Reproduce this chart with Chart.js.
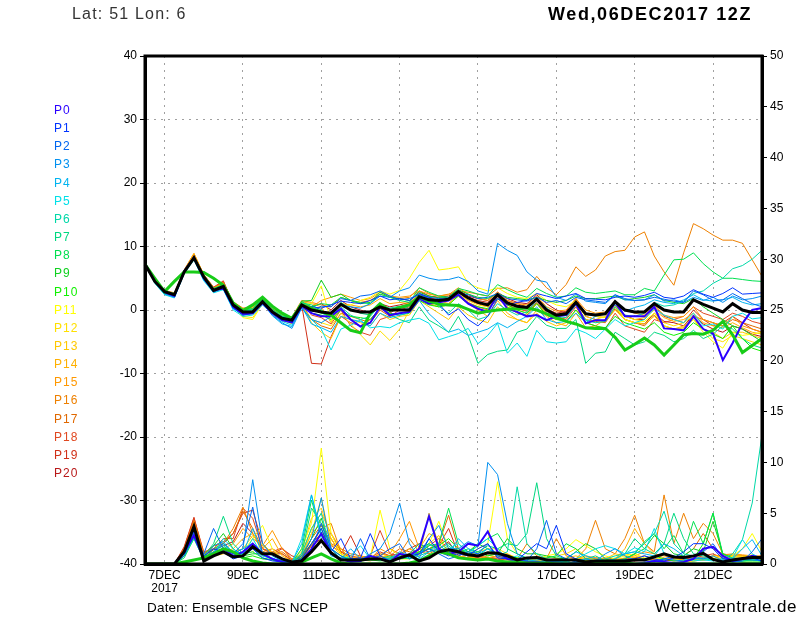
<!DOCTYPE html>
<html>
<head>
<meta charset="utf-8">
<script src="https://cdn.jsdelivr.net/npm/chart.js@4/dist/chart.umd.min.js"></script>
<style>
  html, body { margin: 0; padding: 0; background: #fff; }
  #wrap { position: relative; width: 800px; height: 618px; overflow: hidden; background: #fff; }
  #c { position: absolute; left: 0; top: 0; }
  .txt { position: absolute; white-space: nowrap; font-family: "Liberation Sans", "DejaVu Sans", sans-serif; }
  #hdrL { left: 72px; top: 5px; font-size: 16px; color: #333; letter-spacing: 1.2px; }
  #hdrR { right: 48px; top: 4px; font-size: 18px; font-weight: bold; color: #000; letter-spacing: 1.6px; }
  #ftrL { left: 147px; top: 600px; font-size: 13.5px; color: #000; letter-spacing: 0.2px; }
  #ftrR { right: 3px; top: 597px; font-size: 17px; color: #000; letter-spacing: 0.5px; }
  .leg { left: 54px; font-size: 12px; line-height: 14px; letter-spacing: 1px; }
</style>
</head>
<body>
<div id="wrap">
  <canvas id="c" width="800" height="618"></canvas>
  <div class="txt" id="hdrL">Lat: 51 Lon: 6</div>
  <div class="txt" id="hdrR">Wed,06DEC2017 12Z</div>
  <div class="txt" id="ftrL">Daten: Ensemble GFS NCEP</div>
  <div class="txt" id="ftrR">Wetterzentrale.de</div>
</div>
<script>
// ---- time steps (hours after 06DEC2017 12Z) ----
const HOURS = [0,6,12,18,24,30,36,42,48,54,60,66,72,78,84,90,96,102,108,114,120,126,132,138,144,150,156,162,168,174,180,186,192,198,204,210,216,222,228,234,240,246,252,258,264,270,276,282,288,294,300,306,312,318,324,330,336,342,348,354,360,366,372,378];
// x-axis tick texts at step index
const X_TICK_INDEX = [2,10,18,26,34,42,50,58];
const X_TICK_TEXT  = [['7DEC','2017'],'9DEC','11DEC','13DEC','15DEC','17DEC','19DEC','21DEC'];
const T_TICKS = [-40,-30,-20,-10,0,10,20,30,40];
const R_TICKS = [0,5,10,15,20,25,30,35,40,45,50];

const MEMBER_NAMES = ['P0','P1','P2','P3','P4','P5','P6','P7','P8','P9','P10','P11','P12','P13','P14','P15','P16','P17','P18','P19','P20'];
const MEMBER_COLORS = ['#2a00ff','#0034ff','#0066f0','#0090f0','#00b4f0','#00e0e8','#00d8a8','#00d880','#00e050','#10d020','#10f000','#ffff00','#ffe000','#ffc800','#ffb000','#ff9800','#ee8000','#e06800','#e04820','#d03018','#b81818'];

// ---- 2m temperature (deg C), ensemble mean and main run ----
const T_MEAN = [7.2,4.5,2.9,2.4,6.0,8.2,5.2,3.1, 3.7,0.8,-0.3,-0.3,1.3,-0.3,-1.3,-1.6, 0.8,0.0,-0.3,-0.5,0.9,0.0,-0.3,-0.3, 0.5,0.0,0.0,0.0,2.1,1.6,1.5,1.7, 2.9,1.9,1.2,0.8,2.4,1.1,0.6,0.4, 1.7,0.0,-0.8,-0.6,1.2,-0.6,-0.8,-0.6, 1.3,0.0,-0.3,-0.3,1.0,0.0,-0.3,-0.3, 1.6,0.9,0.3,-0.3,1.0,0.0,-0.4,-0.4];
const T_MAIN = [7.2,5.0,2.9,4.5,6.0,6.0,5.9,5.0, 3.9,1.1,-0.1,0.8,2.0,0.6,-0.5,-1.3, 0.8,0.3,-0.3,-0.8,-2.0,-3.2,-3.6,-0.5, 1.0,-0.1,0.4,0.8,2.1,1.4,0.9,0.8, 0.7,0.1,-0.5,-0.2,0.0,0.1,0.2,0.3, 0.0,-0.6,-1.2,-1.8,-2.2,-2.8,-2.9,-2.9, -4.3,-6.3,-5.4,-4.4,-5.5,-7.1,-5.5,-3.9, -3.7,-3.8,-3.2,-1.8,-3.9,-6.7,-5.6,-4.5];

// ---- 2m temperature per member ----
const T_P0 = [7.2,4.6,2.8,2.2,6.1,8.3,5.0,3.0,3.5,0.5,-0.6,-0.5,1.1,-0.5,-1.6,-2.0,0.6, -0.5,-1.0,-1.0,0.2,-1.5,-2.6,-2.0, 0.5,-0.8,-0.5,-0.3,1.8,1.0,1.2,1.5, 2.4,1.0,0.2,-0.3,2.4,0.2,-0.3,-1.0, -0.8,-1.6,-1.0,-0.8,1.0,-2.1,-1.6,-1.6, 1.3,-1.0,-1.0,-1.0,0.5,-2.9,-3.0,-3.2, -1.0,-3.0,-3.7,-7.9,-5.2,-2.1,0.0,0.3];
const T_P1 = [7.2,4.5,2.7,2.3,6.0,8.1,5.0,3.2,3.6,0.4,-0.8,-0.5,1.2,-0.5,-1.5,-1.9,0.6, 0.5,0.3,0.8,1.4,1.2,1.0,1.5, 2.2,1.6,1.8,1.5,2.6,2.0,1.0,-0.8, 0.2,-1.5,-2.5,-1.0,1.8,0.8,1.2,1.5, 2.6,2.2,1.8,2.2,2.6,1.8,1.7,1.6, 2.0,2.2,2.0,2.3,2.8,2.0,1.8,2.2, 3.2,2.5,2.0,2.6,3.5,2.5,2.6,2.7];
const T_P2 = [7.2,4.6,2.9,2.3,6.2,8.4,5.1,3.1,3.6,0.6,-0.5,-0.4,1.2,-0.4,-1.5,-1.9,0.7, -0.3,0.6,0.5,1.8,1.5,2.2,2.4, 3.0,2.2,1.6,1.8,2.4,2.0,1.8,1.9, 2.6,2.4,1.8,2.0,2.6,1.8,1.6,1.4, 2.0,1.2,1.5,1.0,2.0,1.6,1.4,1.2, 2.4,1.8,1.5,1.6,2.0,1.7,1.4,1.2, 3.0,2.4,1.5,1.6,2.6,1.8,1.0,0.5];
const T_P3 = [7.2,4.4,2.6,2.0,5.8,8.0,4.9,2.8,3.4,0.3,-0.8,-0.6,1.0,-0.8,-2.0,-2.9,0.3, -1.5,-2.0,-1.0,0.8,0.5,0.3,1.0, 2.2,2.0,3.0,3.5,5.5,5.0,4.7,4.8, 5.2,4.5,3.0,2.5,10.5,9.4,8.6,6.0, 4.7,4.4,2.0,1.5,2.5,1.4,1.2,1.0, 2.4,1.6,1.5,1.6,2.4,1.4,1.6,1.2, 2.0,1.5,2.0,1.2,2.2,1.6,1.8,2.2];
const T_P4 = [7.2,4.3,2.5,2.1,5.9,8.0,4.7,3.0,3.3,0.2,-0.7,-0.4,1.2,-0.9,-2.2,-2.6,0.5, -2.2,-2.8,-3.5,-1.0,-1.5,-1.8,-2.5, -0.5,-1.2,-0.8,-0.4,1.5,-0.6,-2.0,-3.5, -3.0,-4.0,-3.5,-3.0,-2.0,-2.8,-1.8,-1.0, 0.5,-1.5,-2.0,-1.8,-0.5,-2.0,-1.0,-0.5, 0.8,-0.2,0.4,0.8,1.6,1.2,1.0,1.6, 2.4,1.6,1.4,1.6,2.0,1.2,0.8,1.0];
const T_P5 = [7.2,4.2,2.4,1.9,5.7,7.9,4.6,2.7,3.2,0.0,-1.0,-0.8,0.8,-0.6,-1.8,-2.4,0.4, -1.5,-3.0,-6.3,-3.0,-2.4,-1.6,-2.8, -2.6,-2.8,-2.0,-1.6,-1.3,-2.1,-4.7,-4.2, -3.7,-2.9,-5.3,-4.0,-2.1,-6.8,-5.2,-7.3, -3.2,-5.0,-5.2,-5.0,-3.0,-3.6,-4.5,-3.0, -1.5,-2.5,-2.0,-1.5,0.2,-0.8,-1.5,-2.0, -0.5,-2.5,-2.2,-3.0,-1.0,-0.5,-1.4,-1.2];
const T_P6 = [7.2,4.5,2.8,2.4,6.1,8.2,5.3,3.2,3.8,0.9,-0.2,-0.1,1.5,-0.2,-1.1,-1.5,1.0, 0.3,-0.5,-1.0,0.5,-0.8,-1.5,-1.0, 0.8,0.3,0.6,0.2,2.5,1.8,0.6,-0.5, 1.0,0.0,-1.5,-1.0,1.0,0.0,-0.8,-0.3, 1.5,0.4,-1.0,-1.2,0.8,-1.6,-2.0,-1.8, 0.5,-0.8,-1.0,-0.5,1.2,0.6,0.8,1.4, 2.6,3.0,4.2,5.0,6.5,7.0,8.0,9.4];
const T_P7 = [7.2,4.6,2.9,2.5,6.2,8.3,5.4,3.3,3.9,1.0,0.0,0.1,1.7,0.0,-1.0,-1.2,1.1, 0.8,0.0,-1.0,1.2,0.2,-0.5,-0.8, 1.0,-0.8,-1.5,-2.0,0.5,-1.6,-2.5,-3.5, -1.0,-4.0,-8.4,-7.0,-6.5,-6.3,-3.5,-3.0, -1.0,-2.4,-2.9,-2.9,-1.5,-8.4,-6.8,-6.6, -3.5,-4.5,-5.5,-5.0,-3.5,-4.0,-5.0,-4.5, -3.2,-4.5,-3.8,-2.5,-3.0,-4.5,-5.5,-6.0];
const T_P8 = [7.2,4.5,3.0,2.6,6.1,8.4,5.5,3.4,4.0,1.1,0.1,0.2,1.9,0.2,-0.9,-1.3,1.3, 0.5,1.0,0.8,2.0,1.5,1.2,1.0, 2.5,2.0,1.5,1.2,3.5,2.8,2.2,2.0, 3.4,3.0,2.5,2.2,4.0,3.2,2.5,2.0, 3.4,2.6,2.0,2.2,3.5,2.8,2.6,2.8, 3.0,2.4,2.4,3.4,3.0,5.5,7.9,8.0, 9.0,7.3,6.0,5.0,5.0,4.8,4.6,4.5];
const T_P9 = [7.2,4.4,2.8,2.4,6.0,8.2,5.2,3.1,3.8,0.8,-0.2,0.0,1.6,-0.1,-1.2,-1.4,1.4, 1.5,4.7,2.0,2.5,1.5,1.0,1.2, 2.8,2.0,1.8,1.5,2.8,2.2,1.9,2.0, 3.2,2.5,2.0,1.8,2.6,2.0,1.8,1.6, 2.0,1.5,1.2,1.5,2.2,1.8,1.8,2.0, 2.2,1.6,1.8,2.0,2.4,1.5,1.2,1.0, 1.8,0.5,-0.5,-1.5,-2.5,-3.0,-4.0,-5.0];
const T_P10 = [7.2,4.5,2.9,2.3,6.1,8.3,5.1,3.0,3.6,0.7,-0.4,-0.2,1.4,-0.3,-1.4,-1.8,0.9, -0.5,-0.8,-1.5,0.0,-1.0,-1.2,-1.5, 0.3,-0.5,-0.8,-0.5,1.5,0.8,0.5,0.8, 2.2,1.0,0.5,0.2,1.8,0.8,0.0,-0.5, 1.0,-0.8,-1.5,-1.8,0.0,-2.0,-2.5,-2.8, -1.0,-2.0,-2.5,-3.0,-2.0,-3.5,-4.0,-3.5, -2.0,-3.0,-3.8,-4.5,-2.5,-4.5,-6.0,-6.5];
const T_P11 = [7.2,4.4,2.8,2.3,5.9,8.1,5.1,2.9,3.6,0.6,-1.2,-1.5,1.0,-0.6,-1.5,-2.2,0.9, 1.0,3.8,-1.8,0.5,0.8,1.5,2.0, 3.0,2.5,3.1,5.0,7.5,9.4,6.3,6.5, 6.8,4.2,3.5,3.0,3.5,2.6,2.0,1.8, 2.6,1.5,0.8,0.5,1.5,-0.5,-1.0,-1.2, 0.5,-1.5,-2.0,-1.8,-0.5,-2.5,-3.0,-2.8, -1.5,-3.5,-5.0,-6.0,-3.5,-4.0,-3.8,-3.5];
const T_P12 = [7.2,4.3,2.7,2.2,5.8,8.0,5.0,2.8,3.5,0.5,-1.0,-1.2,1.1,-0.7,-1.7,-2.0,0.7, -1.5,-2.0,-2.5,-0.5,-2.2,-3.9,-5.5, -3.3,-4.8,-3.0,0.0,2.0,1.0,0.5,0.8, 2.5,1.5,0.8,0.5,2.0,0.5,0.0,-0.5, 1.0,-0.5,-1.0,-0.8,1.0,-1.0,-1.5,-1.0, 0.5,-1.0,-1.5,-1.8,-0.5,-2.0,-2.5,-2.0, -1.0,-3.0,-4.5,-5.0,-4.0,-4.5,-5.0,-5.5];
const T_P13 = [7.2,4.5,2.8,2.4,6.1,8.5,5.3,3.1,3.7,0.7,-0.5,-0.4,1.4,-0.4,-1.4,-1.8,0.8, -2.0,-3.5,-4.5,-1.0,-1.5,-2.0,-2.5, -0.5,-1.5,-1.0,-0.8,1.5,0.5,-0.5,-1.5, 0.5,-0.8,-1.5,-2.0,0.5,-1.0,-1.5,-2.0, -0.5,-1.8,-2.5,-2.0,0.0,-1.5,-2.0,-1.8, 0.0,-1.5,-2.0,-2.2,-1.0,-2.5,-3.0,-2.5, -1.5,-3.0,-3.5,-4.5,-3.5,-3.5,-4.0,-4.5];
const T_P14 = [7.2,4.7,3.0,2.6,6.3,8.9,5.5,3.4,4.2,1.2,0.2,0.4,1.8,0.3,-0.8,-1.2,1.3, 1.0,0.5,-2.0,1.0,0.8,0.5,0.8, 1.8,1.0,1.2,1.0,2.5,1.8,1.5,1.0, 2.2,1.0,0.0,-1.0,1.5,-0.5,-1.5,-2.0, 0.0,-1.0,-2.0,-2.5,-0.5,-2.8,-2.5,-1.5, 0.5,-1.0,-1.5,-1.2,0.0,-1.2,-1.8,-1.5, -0.5,-2.0,-2.5,-2.8,-2.0,-2.8,-3.5,-3.8];
const T_P15 = [7.2,4.6,3.0,2.5,6.2,8.8,5.4,3.3,4.0,1.0,0.0,0.2,1.7,0.1,-1.0,-1.4,1.1, 0.5,1.5,2.0,2.5,2.0,1.5,1.8, 2.8,2.2,2.0,2.2,3.0,2.5,2.2,2.4, 3.5,2.5,1.8,1.5,2.8,1.5,1.0,0.8, 2.2,0.5,-0.2,0.0,1.8,0.0,-0.5,-0.3, 1.5,0.0,-0.5,-0.8,0.8,-0.8,-1.2,-1.0, 0.5,-1.5,-2.0,-2.5,-1.0,-2.5,-3.0,-3.5];
const T_P16 = [7.2,4.7,3.1,2.7,6.3,8.9,5.6,3.5,4.3,1.3,0.3,0.5,1.9,0.4,-0.7,-1.1,1.5, 1.2,0.8,0.5,2.0,1.5,1.2,1.5, 2.5,2.0,1.8,2.0,3.5,2.6,2.2,2.5, 3.0,2.8,2.5,2.2,3.4,3.5,2.8,3.2, 5.3,3.5,2.4,4.0,6.8,5.3,6.3,8.5, 9.2,9.4,11.5,12.3,8.5,6.0,3.9,9.0, 13.6,12.8,11.8,11.0,11.0,10.5,7.9,5.3];
const T_P17 = [7.2,4.6,2.9,2.5,6.2,8.7,5.5,3.4,4.4,1.1,0.0,0.2,1.6,0.0,-1.1,-1.6,1.0, -1.5,-2.5,-3.0,-0.5,-1.0,-1.5,-2.0, 0.0,-1.0,-0.5,-0.2,1.8,1.0,0.5,1.0, 2.4,1.2,0.5,0.0,1.8,0.5,-0.5,-0.8, 1.0,-0.8,-1.5,-1.2,0.8,-1.5,-1.8,-2.0, 0.2,-1.5,-2.0,-2.5,-0.8,-2.5,-3.0,-2.8, -1.0,-1.5,-2.0,-2.5,-1.5,-2.0,-2.5,-3.0];
const T_P18 = [7.2,4.5,2.9,2.3,6.0,8.5,5.6,3.6,4.6,1.0,-0.2,0.0,1.5,0.1,-1.2,-1.5,1.2, -0.8,-1.2,-2.2,0.0,-2.5,-3.5,-4.0, -1.5,-1.0,0.0,0.5,2.2,1.5,1.2,1.5, 2.8,1.5,1.0,0.5,2.0,0.8,0.2,-0.2, 1.2,-0.5,-1.0,-1.5,0.5,-2.0,-2.5,-3.0, -0.5,-2.5,-3.0,-3.5,-1.5,-2.0,-1.5,-1.0, 0.5,-0.5,-1.0,-1.5,-0.5,-1.0,-1.8,-2.2];
const T_P19 = [7.2,4.5,2.8,2.3,6.0,8.6,5.5,3.5,4.5,0.9,-0.3,-0.1,1.4,-0.2,-1.3,-1.7,0.8, -8.4,-8.5,-4.2,-1.0,-2.0,-2.5,-1.5, 0.2,-0.5,0.5,1.0,2.6,2.0,1.5,1.8, 3.0,2.0,1.5,1.2,2.6,1.5,1.0,0.5, 2.0,0.2,-0.5,-0.2,1.8,-0.5,-1.0,-1.2, 0.8,-0.8,-1.5,-1.5,0.5,-1.0,-1.5,-2.0, 0.0,-1.5,-2.5,-2.0,-1.0,-2.0,-3.0,-3.5];
const T_P20 = [7.2,4.4,2.8,2.2,6.0,8.4,5.3,3.3,4.1,0.8,-0.4,-0.2,1.3,-0.3,-1.4,-1.8,0.9, 0.5,1.0,0.0,1.5,0.5,0.0,-0.5, 1.0,0.5,0.8,1.2,3.0,2.2,2.0,2.2, 3.2,2.2,1.8,1.5,2.8,1.8,1.2,1.0, 2.4,1.0,0.0,-0.5,1.5,-1.0,-1.5,-1.8, 0.5,-1.5,-2.0,-2.2,-0.5,-1.8,-2.0,-2.5, -0.8,-2.2,-3.0,-3.5,-2.5,-3.0,-3.8,-4.2];

// ---- 6h precipitation (mm), mean and main run ----
const R_MEAN = [0,0,0,0,1.2,3.7,0.3,0.8, 1.2,0.7,0.8,1.7,1.0,1.0,0.5,0.2, 0.3,1.2,2.3,1.1,0.4,0.4,0.4,0.5, 0.5,0.2,0.6,0.9,0.3,0.6,1.2,1.4, 1.2,0.9,0.8,1.1,1.05,0.8,0.4,0.6, 0.65,0.4,0.4,0.4,0.4,0.2,0.3,0.3, 0.3,0.3,0.4,0.4,0.7,1.0,0.7,0.65, 0.8,1.05,0.45,0.2,0.4,0.55,0.65,0.65];
const R_MAIN = [0,0,0,0,0.2,0.4,0.6,1.0, 1.5,1.2,0.6,0.3,0.1,0,0,0, 0.2,0.6,1.0,0.5,0.1,0,0,0, 0,0,0,0.1,0.3,0.8,1.2,1.0, 0.6,0.5,0.4,0.5,0.3,0.2,0.2,0.1, 0.1,0.1,0,0,0,0,0.1,0.2, 0.2,0.1,0,0,0,0,0,0, 0,0,0,0,0,0,0,0];

// ---- 6h precipitation per member ----
const R_P0 = [0,0,0,0,1.2,2.8,0.5,1.0, 1.5,0.8,1.2,2.0,1.0,0.5,0.2,0, 0.3,1.5,3.0,1.0,0.5,0.2,0.3,0.8, 0.5,0.2,1.0,0.8,1.5,4.7,1.5,1.0, 1.2,2.0,1.8,3.2,1.2,0.5,0.3,0.2, 0.2,0.1,0,0,0.1,0,0,0, 0,0,0,0.1,0.3,0.2,0.1,0.2, 0.5,1.5,1.7,0.8,0.3,0.5,0.8,0.6];
const R_P1 = [0,0,0,0,1.0,3.2,0.8,1.5, 1.2,0.5,0.8,1.5,0.6,0.3,0.2,0.1, 0.5,2.0,3.5,1.2,2.5,0.5,0.6,3.0, 0.8,0.3,0.5,0.8,1.0,2.5,1.2,0.8, 1.0,0.8,1.5,2.0,0.6,0.5,0.4,1.2, 2.0,1.5,3.8,1.0,0.5,0.2,0.1,0.2, 0.3,0.4,0.5,0.8,0.5,0.3,0.6,1.2, 2.0,2.0,1.5,0.5,0.4,0.5,0.6,0.3];
const R_P2 = [0,0,0,0,0.8,2.8,1.0,3.5, 1.5,1.0,2.0,5.6,1.0,0.5,0.3,0.1, 0.5,1.5,4.0,1.5,0.8,0.3,2.5,0.5, 0.8,1.5,2.0,0.5,1.0,1.5,1.0,0.5, 0.8,1.2,1.0,2.0,0.8,0.5,0.5,0.3, 1.5,4.3,1.0,0.5,0.2,0.1,0.3,0.2, 0.1,0.3,0.5,0.3,0.2,0.5,0.8,0.5, 0.8,1.2,2.0,0.6,0.2,0.3,1.2,2.5];
const R_P3 = [0,0,0,0,1.0,3.0,0.6,1.2, 2.0,1.0,1.5,8.3,2.0,0.8,0.3,0.1, 0.8,2.5,6.5,1.5,0.5,0.3,0.4,1.0, 1.5,3.0,6.0,2.0,0.6,2.5,3.8,1.5, 1.5,2.2,1.8,10.0,8.8,4.0,1.0,0.5, 0.5,0.3,0.2,0.1,0.2,0.5,0.3,1.0, 1.5,0.8,0.4,0.5,0.3,0.5,0.4,0.3, 0.5,0.5,0.8,0.3,0.2,0.5,0.4,0.3];
const R_P4 = [0,0,0,0,1.2,3.3,0.5,1.8, 2.2,1.0,1.0,3.5,1.0,0.5,0.2,0.2, 2.0,6.8,3.0,0.8,0.5,1.5,0.5,0.4, 0.5,0.5,1.2,0.8,0.5,1.2,2.0,1.0, 2.5,1.5,1.0,1.5,1.0,0.6,0.3,0.4, 0.3,0.2,0.2,0.5,1.2,0.8,0.5,0.3, 0.5,1.0,1.2,1.0,0.8,2.0,1.5,0.8, 0.5,0.6,0.5,0.3,0.5,1.5,2.4,0.8];
const R_P5 = [0,0,0,0,1.0,3.5,0.7,1.0, 2.5,1.5,0.8,2.5,0.8,0.6,0.2,0.1, 2.5,6.8,2.5,1.0,0.4,0.8,1.8,0.5, 0.4,0.3,0.8,0.6,1.0,2.0,1.2,1.5, 2.0,1.0,1.8,2.5,1.5,0.5,0.8,0.3, 0.2,0.3,0.3,0.2,0.5,1.0,1.5,1.8, 1.5,1.0,1.6,1.2,3.5,1.0,0.8,0.5, 0.3,0.4,0.3,0.5,0.6,2.4,1.0,0.5];
const R_P6 = [0,0,0,0,0.8,2.5,0.5,1.2, 1.8,1.0,1.5,2.0,1.2,0.5,0.3,0.2, 1.0,3.5,5.0,1.2,0.5,0.4,0.5,0.8, 0.5,0.6,0.8,0.5,0.8,1.2,1.5,2.0, 1.2,1.0,0.8,1.5,0.8,1.2,7.6,2.0, 1.0,0.5,0.3,0.4,0.3,0.2,0.3,0.5, 0.8,1.0,1.2,2.0,3.0,5.2,2.0,1.0, 0.8,0.5,0.4,0.5,1.0,2.4,6.0,12.7];
const R_P7 = [0,0,0,0,1.0,2.8,0.8,2.0, 4.7,2.0,1.0,1.5,0.8,0.5,0.3,0.2, 1.0,5.5,4.0,1.0,0.6,0.5,0.4,0.5, 0.5,0.4,0.5,1.0,2.0,1.5,1.2,1.8, 1.0,1.5,1.2,1.8,1.5,2.0,1.8,3.0, 8.0,2.5,0.8,0.5,0.3,0.5,0.8,0.3, 0.5,1.0,2.5,1.5,1.0,2.0,5.0,2.5, 1.0,0.8,0.5,0.3,0.2,0.3,0.4,0.5];
const R_P8 = [0,0,0,0,0.6,2.5,0.4,1.5, 2.0,1.2,1.0,1.2,0.6,0.4,0.2,0.1, 1.5,6.3,2.8,1.5,0.8,0.5,0.4,0.6, 0.5,0.8,0.5,0.8,1.2,1.8,2.0,5.5, 2.0,1.2,1.8,2.5,3.0,1.5,1.0,0.6, 0.5,0.6,0.8,2.0,1.5,0.5,0.3,0.2, 0.3,0.5,1.0,2.2,3.0,1.5,2.8,1.0, 4.2,2.0,5.0,1.0,0.5,0.3,0.4,0.3];
const R_P9 = [0,0,0,0,0.8,3.0,0.6,1.8, 3.0,1.5,0.8,1.0,1.0,0.5,0.3,0.2, 0.8,2.5,4.5,1.5,0.5,0.4,0.3,0.5, 0.4,0.5,0.6,0.8,1.5,2.0,1.5,1.2, 1.5,1.2,2.0,1.5,1.0,2.5,1.5,1.0, 1.0,0.8,0.6,0.5,1.2,2.0,1.5,0.5, 0.3,0.5,1.0,1.5,2.8,2.0,1.0,0.8, 1.5,1.2,4.2,1.0,0.6,0.5,0.4,0.3];
const R_P10 = [0,0,0,0,0.8,2.6,0.5,1.2, 1.5,1.2,0.6,0.8,0.5,0.4,0.2,0.1, 0.6,2.0,3.5,1.0,0.6,0.4,0.3,0.4, 0.3,0.4,0.5,0.6,1.2,1.5,1.8,2.5, 1.5,1.0,1.2,0.8,1.0,0.8,0.6,0.5, 0.6,0.4,0.3,0.2,0.5,0.3,0.2,0.2, 0.2,0.3,0.4,0.5,0.8,0.5,0.3,0.3, 0.5,2.0,5.0,0.8,0.3,0.2,0.2,0.2];
const R_P11 = [0,0,0,0,1.0,3.0,0.8,1.0, 1.2,0.8,1.2,2.5,3.8,1.5,0.5,0.2, 1.5,4.0,11.4,3.0,1.0,0.5,0.4,0.6, 5.3,1.5,0.8,0.6,1.0,2.0,4.2,1.5, 1.2,1.0,1.5,2.0,8.1,2.5,1.0,0.5, 0.5,0.8,1.0,1.5,2.4,1.8,1.2,0.8, 0.5,0.8,1.0,0.6,0.5,0.4,0.5,0.3, 0.4,0.5,0.6,0.4,0.8,1.5,3.0,1.2];
const R_P12 = [0,0,0,0,0.8,2.8,0.6,1.0, 1.5,0.8,1.0,1.2,2.0,1.0,0.4,0.2, 1.0,3.0,6.5,2.0,0.8,0.5,0.3,0.4, 0.8,0.6,0.5,0.5,0.8,5.0,1.8,1.2, 1.0,0.8,1.2,1.5,1.5,1.0,0.6,0.4, 0.5,0.6,0.8,1.0,1.5,0.8,0.5,0.3, 0.6,1.0,0.8,0.5,0.6,0.5,0.4,0.3, 0.3,0.4,0.5,0.6,0.8,0.7,0.9,0.5];
const R_P13 = [0,0,0,0,1.1,3.2,0.5,0.8, 1.0,1.2,1.5,2.8,1.8,1.2,0.5,0.2, 1.2,4.5,5.5,2.5,1.0,0.5,0.4,0.3, 0.6,0.5,0.8,1.5,1.2,2.0,2.8,1.0, 0.8,0.6,0.8,1.0,1.2,0.8,0.5,0.4, 0.3,0.4,0.5,0.6,0.8,0.5,0.4,0.5, 1.0,0.8,0.6,0.4,0.3,0.5,0.4,0.3, 0.3,0.5,0.8,0.7,0.6,0.6,0.5,0.4];
const R_P14 = [0,0,0,0,1.3,3.8,0.6,1.0, 1.2,1.5,2.5,3.0,1.5,2.5,0.8,0.3, 1.0,3.5,5.0,3.0,1.5,0.5,0.8,0.5, 1.0,0.8,0.6,0.8,1.5,3.0,2.5,1.2, 1.0,0.8,0.5,0.6,0.8,0.5,0.4,0.3, 0.3,0.2,0.3,0.4,0.5,0.6,0.5,0.3, 0.5,1.5,3.5,2.0,1.0,0.6,0.4,0.3, 0.3,0.4,0.5,0.8,0.9,0.8,0.7,0.6];
const R_P15 = [0,0,0,0,1.4,4.0,0.8,1.2, 1.5,2.0,3.5,2.5,1.8,3.3,1.5,0.5, 0.8,3.0,4.0,2.5,1.0,0.6,0.5,0.4, 1.5,1.0,2.5,4.2,1.5,2.0,1.2,1.0, 0.8,0.6,0.5,0.8,1.0,0.6,0.4,0.3, 0.3,0.3,0.2,0.3,0.5,0.8,0.6,0.5, 0.4,0.6,0.8,1.2,1.0,0.8,0.6,0.4, 0.5,0.6,0.8,0.9,1.0,0.9,0.8,0.7];
const R_P16 = [0,0,0,0,1.3,4.2,1.0,1.5, 2.0,3.5,5.6,3.0,1.2,1.5,1.0,0.3, 0.5,1.8,3.5,4.0,1.2,0.8,0.5,0.6, 0.8,1.5,1.0,2.5,1.2,1.0,1.5,1.2, 1.0,1.2,0.8,0.6,0.8,1.0,0.5,2.0, 0.8,0.5,2.5,0.8,0.5,1.5,4.3,1.5, 1.0,2.5,4.8,2.0,1.2,6.8,2.0,5.0, 2.5,4.0,3.0,1.0,0.8,0.8,0.8,0.8];
const R_P17 = [0,0,0,0,1.5,4.3,1.0,1.8, 2.2,3.0,5.2,3.5,1.5,1.0,1.2,0.5, 0.6,2.5,3.8,2.0,1.5,1.0,0.8,0.5, 1.0,0.8,1.5,1.2,1.0,1.5,2.0,4.8, 1.5,1.0,0.8,0.6,0.5,0.4,0.3,0.4, 0.5,0.3,0.2,0.3,0.4,0.3,0.5,0.6, 0.5,0.4,0.6,0.8,0.5,0.4,0.6,0.8, 1.5,3.0,1.5,1.0,0.8,0.8,0.7,0.6];
const R_P18 = [0,0,0,0,1.6,4.5,1.2,1.5, 2.5,2.5,5.5,4.5,1.5,1.2,1.6,0.5, 0.8,2.0,3.0,1.8,1.2,0.8,0.6,0.8, 3.3,1.0,0.8,1.5,1.0,1.8,2.5,2.0, 1.2,0.8,0.6,0.5,0.8,0.6,0.5,0.4, 0.3,0.4,0.5,0.4,0.3,0.5,0.6,0.5, 0.4,0.5,0.6,0.5,0.4,0.5,0.6,0.5, 0.6,0.8,1.0,0.6,0.5,0.4,0.5,0.5];
const R_P19 = [0,0,0,0,1.7,4.6,1.0,1.8, 2.0,3.0,5.0,5.3,2.0,1.0,1.5,0.8, 0.5,1.5,3.0,2.5,1.0,2.8,0.8,0.6, 1.2,0.8,1.0,1.5,2.0,1.5,1.8,3.5, 1.0,0.8,0.6,0.5,0.4,0.6,0.5,0.5, 0.4,0.3,0.3,0.4,0.5,0.4,0.3,0.4, 0.5,0.4,0.3,0.4,0.5,0.4,0.3,0.5, 0.5,0.6,0.5,0.5,0.4,0.5,0.6,0.5];
const R_P20 = [0,0,0,0,1.5,4.2,0.8,1.4, 1.8,2.2,4.0,3.0,1.5,1.0,1.0,0.4, 0.6,1.8,2.5,3.0,1.2,0.6,0.5,0.5, 0.8,0.6,0.8,1.0,1.5,1.2,1.5,2.2, 0.8,0.6,0.5,0.5,0.6,0.5,0.4,0.3, 0.3,0.3,0.2,0.3,0.4,0.3,0.4,0.3, 0.4,0.3,0.4,0.5,0.4,0.3,0.4,0.4, 0.5,0.4,0.5,0.4,0.5,0.5,0.4,0.4];

const T_MEMBERS = [T_P0,T_P1,T_P2,T_P3,T_P4,T_P5,T_P6,T_P7,T_P8,T_P9,T_P10,T_P11,T_P12,T_P13,T_P14,T_P15,T_P16,T_P17,T_P18,T_P19,T_P20];
const R_MEMBERS = [R_P0,R_P1,R_P2,R_P3,R_P4,R_P5,R_P6,R_P7,R_P8,R_P9,R_P10,R_P11,R_P12,R_P13,R_P14,R_P15,R_P16,R_P17,R_P18,R_P19,R_P20];

// ---- legend (HTML text) ----
const wrap = document.getElementById('wrap');
MEMBER_NAMES.forEach((name, i) => {
  const d = document.createElement('div');
  d.className = 'txt leg';
  d.textContent = name;
  d.style.color = MEMBER_COLORS[i];
  d.style.top = (110 + i * 18.15 - 7) + 'px';
  wrap.appendChild(d);
});

// ---- datasets ----
const datasets = [];
MEMBER_NAMES.forEach((name, i) => {
  const w = i === 0 ? 2 : 1;
  const ord = i === 0 ? 2 : 3 + i;
  datasets.push({ label: name + ' T', data: T_MEMBERS[i], yAxisID: 'yT', borderColor: MEMBER_COLORS[i], borderWidth: w, order: ord });
  datasets.push({ label: name + ' RR', data: R_MEMBERS[i], yAxisID: 'yP', borderColor: MEMBER_COLORS[i], borderWidth: w, order: ord });
});
datasets.push({ label: 'Hauptlauf T', data: T_MAIN, yAxisID: 'yT', borderColor: '#18cc18', borderWidth: 3, order: 1 });
datasets.push({ label: 'Hauptlauf RR', data: R_MAIN, yAxisID: 'yP', borderColor: '#18cc18', borderWidth: 3, order: 1 });
datasets.push({ label: 'Mittel T', data: T_MEAN, yAxisID: 'yT', borderColor: '#000000', borderWidth: 3, order: 0 });
datasets.push({ label: 'Mittel RR', data: R_MEAN, yAxisID: 'yP', borderColor: '#000000', borderWidth: 3, order: 0 });

const frame = {
  id: 'frame',
  afterDraw(chart) {
    const { ctx, chartArea: a } = chart;
    ctx.save();
    ctx.strokeStyle = '#000';
    ctx.lineWidth = 3;
    ctx.beginPath();
    ctx.moveTo(a.left - 1.5, a.top);
    ctx.lineTo(a.right + 1.5, a.top);
    ctx.moveTo(a.left, a.top); ctx.lineTo(a.left, a.bottom + 1.5);
    ctx.moveTo(a.right, a.top); ctx.lineTo(a.right, a.bottom + 1.5);
    ctx.moveTo(a.left - 1.5, a.bottom); ctx.lineTo(a.right + 1.5, a.bottom);
    ctx.stroke();
    ctx.restore();
  }
};

Chart.defaults.font.family = '"Liberation Sans", "DejaVu Sans", sans-serif';
Chart.defaults.color = '#000';

new Chart(document.getElementById('c'), {
  type: 'line',
  data: { labels: HOURS, datasets },
  options: {
    responsive: false,
    animation: false,
    devicePixelRatio: 1,
    layout: { padding: { top: 56, left: 0, right: 0, bottom: 0 } },
    plugins: { legend: { display: false }, tooltip: { enabled: false }, title: { display: false } },
    elements: { point: { radius: 0, hoverRadius: 0 }, line: { tension: 0, borderJoinStyle: 'miter', fill: false } },
    events: [],
    scales: {
      x: {
        type: 'category',
        offset: false,
        grid: { display: true, drawOnChartArea: true, drawTicks: false, color: '#a0a0a0', lineWidth: 1 },
        border: { display: true, color: '#000', width: 3, dash: [2, 5] },
        ticks: {
          autoSkip: false, maxRotation: 0, minRotation: 0, padding: 5,
          font: { size: 12, lineHeight: 1.1 },
          callback: (v, idx) => { const k = X_TICK_INDEX.indexOf(idx); return k >= 0 ? X_TICK_TEXT[k] : null; }
        },
        afterFit: (s) => { s.height = 54; }
      },
      yT: {
        type: 'linear', position: 'left', min: -40, max: 40,
        afterBuildTicks: (s) => { s.ticks = T_TICKS.map(v => ({ value: v })); },
        grid: { drawOnChartArea: true, drawTicks: true, tickLength: 5, tickColor: '#000', tickWidth: 1, tickBorderDash: [], color: '#a0a0a0', lineWidth: 1 },
        border: { display: true, color: '#000', width: 3, dash: [2, 5] },
        ticks: { padding: 3, font: { size: 12 } },
        afterFit: (s) => { s.width = 145; }
      },
      yP: {
        type: 'linear', position: 'right', min: 0, max: 50,
        afterBuildTicks: (s) => { s.ticks = R_TICKS.map(v => ({ value: v })); },
        grid: { drawOnChartArea: false, drawTicks: true, tickLength: 5, tickColor: '#000', tickWidth: 1, tickBorderDash: [] },
        border: { display: true, color: '#000', width: 3 },
        ticks: { padding: 3, font: { size: 12 } },
        afterFit: (s) => { s.width = 38; }
      }
    }
  },
  plugins: [frame]
});
</script>
</body>
</html>
